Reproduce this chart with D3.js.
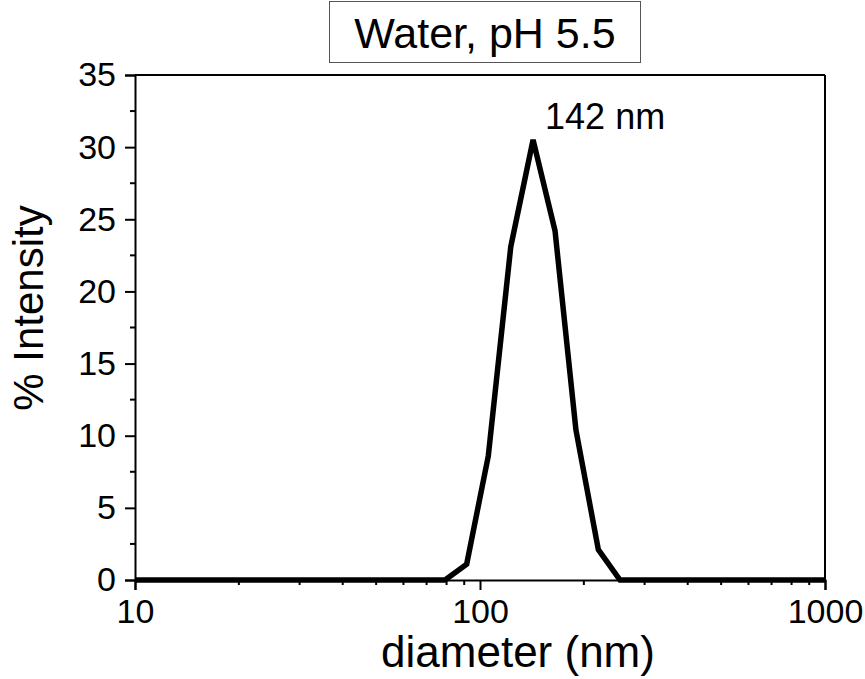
<!DOCTYPE html>
<html>
<head>
<meta charset="utf-8">
<script src="https://cdn.jsdelivr.net/npm/d3@7"></script>
<style>
  body { margin: 0; background: #fff; }
  text { font-family: "Liberation Sans", Arial, sans-serif; fill: #000; }
</style>
</head>
<body>
<script>
const width = 865;
const height = 679;

// size distribution (nm, % intensity)
const diameters = [10, 79.2, 91.5, 105.7, 122.8, 142.5, 165.0, 189.7, 220.3, 254.6, 1000];
const intensities = [0, 0, 1.1, 8.6, 23.1, 30.5, 24.2, 10.4, 2.1, 0, 0];

const yTicks = [0, 5, 10, 15, 20, 25, 30, 35];
const yMinorTicks = [2.5, 7.5, 12.5, 17.5, 22.5, 27.5, 32.5];
const xTicks = [10, 100, 1000];
const xMinorTicks = [20, 30, 40, 50, 60, 70, 80, 90, 200, 300, 400, 500, 600, 700, 800, 900];

const titleText = "Water, pH 5.5";
const peakLabel = "142 nm";
const xLabel = "diameter (nm)";
const yLabel = "% Intensity";

const margin = {top: 75, right: 40, bottom: 99, left: 135};
const plotW = width - margin.left - margin.right;
const plotH = height - margin.top - margin.bottom;

const data = diameters.map((d, i) => ({x: d, y: intensities[i]}));

const x = d3.scaleLog().domain([10, 1000]).range([0, plotW]);
const y = d3.scaleLinear().domain([0, 35]).range([plotH, 0]);

const svg = d3.select('body').append('svg')
    .attr('width', width)
    .attr('height', height);

const g = svg.append('g')
    .attr('transform', `translate(${margin.left},${margin.top})`);

// frame (top and right lines)
g.append('line').attr('x1', 0).attr('x2', plotW).attr('y1', 0).attr('y2', 0)
    .attr('stroke', '#000').attr('stroke-width', 2);
g.append('line').attr('x1', plotW).attr('x2', plotW).attr('y1', 0).attr('y2', plotH)
    .attr('stroke', '#000').attr('stroke-width', 2);

// y axis
const yAxis = g.append('g')
    .call(d3.axisLeft(y).tickValues(yTicks).tickSize(10).tickPadding(9).tickFormat(d3.format('d')));
yAxis.attr('font-size', null).attr('font-family', null);
yAxis.select('.domain').attr('stroke-width', 2);
yAxis.selectAll('.tick line').attr('stroke-width', 2);
yAxis.selectAll('.tick text').style('font-size', '34px');

g.append('g').selectAll('line')
    .data(yMinorTicks)
    .enter().append('line')
    .attr('x1', -5).attr('x2', 0)
    .attr('y1', d => y(d)).attr('y2', d => y(d))
    .attr('stroke', '#000').attr('stroke-width', 2);

// x axis
const xAxis = g.append('g')
    .attr('transform', `translate(0,${plotH})`)
    .call(d3.axisBottom(x).tickValues(xTicks).tickSize(10).tickPadding(9).tickFormat(d3.format('d')));
xAxis.attr('font-size', null).attr('font-family', null);
xAxis.select('.domain').attr('stroke-width', 2);
xAxis.selectAll('.tick line').attr('stroke-width', 2);
xAxis.selectAll('.tick text').style('font-size', '34px');

g.append('g').selectAll('line')
    .data(xMinorTicks)
    .enter().append('line')
    .attr('x1', d => x(d)).attr('x2', d => x(d))
    .attr('y1', plotH).attr('y2', plotH + 5)
    .attr('stroke', '#000').attr('stroke-width', 2);

// data line
const line = d3.line()
    .x(d => x(d.x))
    .y(d => y(d.y));

g.append('path')
    .datum(data)
    .attr('fill', 'none')
    .attr('stroke', '#000')
    .attr('stroke-width', 5.5)
    .attr('stroke-linejoin', 'miter')
    .attr('d', line);

// peak annotation
const peak = data.reduce((a, b) => (b.y > a.y ? b : a));
g.append('text')
    .attr('x', x(peak.x) + 12)
    .attr('y', y(peak.y) - 11)
    .style('font-size', '36px')
    .text(peakLabel);

// axis titles
svg.append('text')
    .attr('x', 518)
    .attr('y', 667)
    .attr('text-anchor', 'middle')
    .style('font-size', '44px')
    .text(xLabel);

svg.append('text')
    .attr('transform', 'translate(43,308) rotate(-90)')
    .attr('text-anchor', 'middle')
    .style('font-size', '42px')
    .text(yLabel);

// title box
svg.append('rect')
    .attr('x', 329.5).attr('y', 1.5)
    .attr('width', 311).attr('height', 61)
    .attr('fill', '#fff')
    .attr('stroke', '#555')
    .attr('stroke-width', 1);

svg.append('text')
    .attr('x', 485)
    .attr('y', 48)
    .attr('text-anchor', 'middle')
    .style('font-size', '43px')
    .text(titleText);
</script>
</body>
</html>
